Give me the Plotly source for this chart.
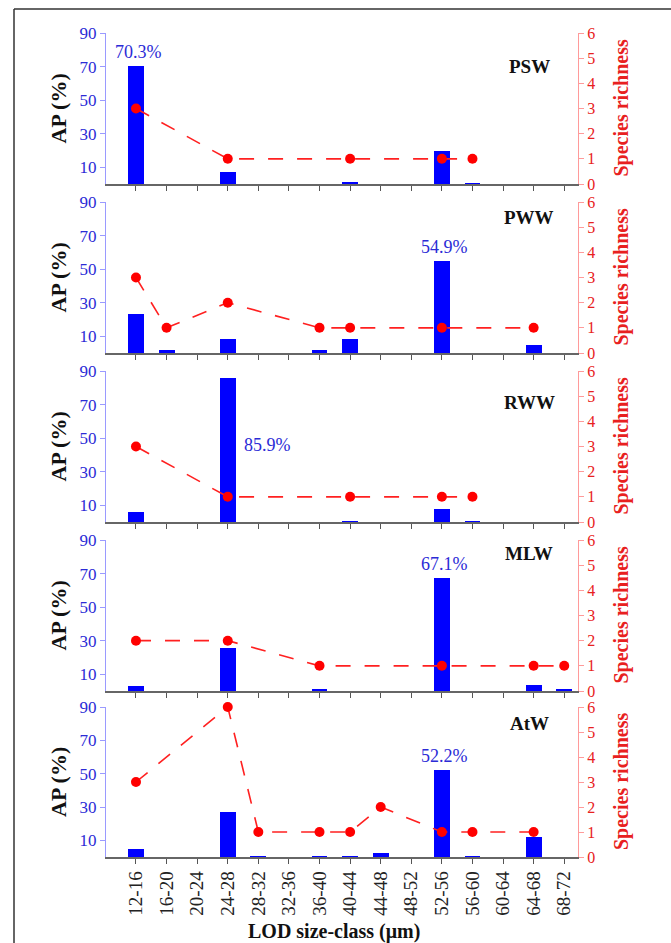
import plotly.graph_objects as go

categories = ["12-16", "16-20", "20-24", "24-28", "28-32", "32-36", "36-40", "40-44",
              "44-48", "48-52", "52-56", "56-60", "60-64", "64-68", "68-72"]

site_names = ["PSW", "PWW", "RWW", "MLW", "AtW"]

ap_psw = [70.3, 0, 0, 7.3, 0, 0, 0, 1.4, 0, 0, 19.8, 0.3, 0, 0, 0]
sr_psw = [3, None, None, 1, None, None, None, 1, None, None, 1, 1, None, None, None]

ap_pww = [23.4, 1.6, 0, 8.1, 0, 0, 1.6, 8.1, 0, 0, 54.9, 0, 0, 4.7, 0]
sr_pww = [3, 1, None, 2, None, None, 1, 1, None, None, 1, None, None, 1, None]

ap_rww = [6.0, 0, 0, 85.9, 0, 0, 0, 0.5, 0, 0, 7.6, 0.3, 0, 0, 0]
sr_rww = [3, None, None, 1, None, None, None, 1, None, None, 1, 1, None, None, None]

ap_mlw = [2.8, 0, 0, 25.5, 0, 0, 1.2, 0, 0, 0, 67.1, 0, 0, 3.6, 0.6]
sr_mlw = [2, None, None, 2, None, None, 1, None, None, None, 1, None, None, 1, 1]

ap_atw = [4.8, 0, 0, 27.1, 0.4, 0, 0.2, 0.5, 2.2, 0, 52.2, 0.2, 0, 11.8, 0]
sr_atw = [3, None, None, 6, 1, None, 1, 1, 2, None, 1, 1, None, 1, None]

ap_ticks = [10, 30, 50, 70, 90]
sr_ticks = [0, 1, 2, 3, 4, 5, 6]

ap_series = [ap_psw, ap_pww, ap_rww, ap_mlw, ap_atw]
sr_series = [sr_psw, sr_pww, sr_rww, sr_mlw, sr_atw]

FONT = "Times New Roman, Liberation Serif, serif"
W, H = 671, 943
ML, MR, MT, MB = 106, 93, 33, 86
PH = H - MT - MB
PW = W - ML - MR

# panel pixel extents (top, bottom)
panel_px = [(33, 184), (202, 353), (371, 522), (540, 691), (707, 857)]
label_px = [66, 218, 402, 553, 723]


def ypap(px):
    return (H - MB - px) / PH


def xpap(px):
    return (px - ML) / PW


fig = go.Figure()
layout = dict(
    width=W, height=H,
    margin=dict(l=ML, r=MR, t=MT, b=MB),
    paper_bgcolor="white", plot_bgcolor="white",
    showlegend=False,
    font=dict(family=FONT, color="#222"),
    bargap=0,
)
annotations = []

for i, (name, ap, sr) in enumerate(zip(site_names, ap_series, sr_series)):
    xn = "x" if i == 0 else f"x{i+1}"
    yp = f"y{2*i+1}" if i > 0 else "y"
    ys = f"y{2*i+2}"
    xkey = "xaxis" if i == 0 else f"xaxis{i+1}"
    ypkey = "yaxis" if i == 0 else f"yaxis{2*i+1}"
    yskey = f"yaxis{2*i+2}"
    top, bot = panel_px[i]
    dom = [ypap(bot), ypap(top)]

    fig.add_trace(go.Bar(x=categories, y=ap, xaxis=xn, yaxis=yp,
                         marker=dict(color="#0000ff", line=dict(width=0)),
                         width=0.52))
    fig.add_trace(go.Scatter(x=categories, y=sr, xaxis=xn, yaxis=ys,
                             mode="lines+markers", connectgaps=True, cliponaxis=False,
                             line=dict(color="#ff2020", dash="15px,14px", width=1.6),
                             marker=dict(size=10, color="#ff0000")))

    layout[xkey] = dict(
        domain=[0, 1], anchor=yp, type="category",
        categoryorder="array", categoryarray=categories,
        range=[-0.98, 14.45],
        tickmode="array", tickvals=categories, ticktext=categories,
        showticklabels=(i == 4), tickangle=-90,
        tickfont=dict(family=FONT, size=19, color="#222"),
        ticks="outside", ticklen=5, tickcolor="#555", tickwidth=1,
        showline=True, linecolor="#666", linewidth=1.5,
        showgrid=False, zeroline=False,
    )
    layout[ypkey] = dict(
        domain=dom, anchor=xn, range=[0, 90],
        tickmode="array", tickvals=ap_ticks,
        tickfont=dict(family=FONT, size=17, color="#2b2bd6"),
        ticks="outside", ticklen=5, tickcolor="#9a9aff",
        showline=True, linecolor="#9a9aff", linewidth=1,
        showgrid=False, zeroline=False,
    )
    layout[yskey] = dict(
        overlaying=yp, side="right", anchor=xn, range=[0, 6],
        tickmode="array", tickvals=sr_ticks,
        tickfont=dict(family=FONT, size=16, color="#e82020"),
        ticks="outside", ticklen=5, tickcolor="#ff9a9a",
        showline=True, linecolor="#ff9a9a", linewidth=1,
        showgrid=False, zeroline=False,
    )

    ymid = (dom[0] + dom[1]) / 2
    annotations.append(dict(text="<b>AP (%)</b>", xref="paper", yref="paper",
                            x=xpap(58), y=ymid, textangle=-90, showarrow=False,
                            font=dict(family=FONT, size=22, color="#111"),
                            xanchor="center", yanchor="middle"))
    annotations.append(dict(text="<b>Species richness</b>", xref="paper", yref="paper",
                            x=xpap(621), y=ymid, textangle=-90, showarrow=False,
                            font=dict(family=FONT, size=20, color="#e82020"),
                            xanchor="center", yanchor="middle"))
    # site label
    annotations.append(dict(text=f"<b>{name}</b>", xref=f"{xn} domain", yref=f"{yp} domain",
                            x=xpap(529), y=(bot - label_px[i]) / (bot - top),
                            showarrow=False, xanchor="center", yanchor="middle",
                            font=dict(family=FONT, size=19, color="#111")))
    # max value label
    k = max(range(len(ap)), key=lambda j: ap[j])
    if name == "RWW":
        annotations.append(dict(text=f"{ap[k]:.1f}%", xref=xn, yref=yp,
                                x=k, y=ap[k] * 0.535, xanchor="left", yanchor="middle",
                                xshift=14, showarrow=False,
                                font=dict(family=FONT, size=18, color="#2b2bd6")))
    else:
        annotations.append(dict(text=f"{ap[k]:.1f}%", xref=xn, yref=yp,
                                x=k, y=ap[k], xanchor="center", yanchor="bottom",
                                xshift=3, yshift=2, showarrow=False,
                                font=dict(family=FONT, size=18, color="#2b2bd6")))

annotations.append(dict(text="<b>LOD size-class (\u03bcm)</b>", xref="paper", yref="paper",
                        x=xpap(334), y=ypap(931), showarrow=False,
                        xanchor="center", yanchor="middle",
                        font=dict(family=FONT, size=20, color="#111")))

layout["annotations"] = annotations
layout["shapes"] = [
    dict(type="line", xref="paper", yref="paper", x0=xpap(14), x1=xpap(14),
         y0=ypap(960), y1=ypap(9), line=dict(color="#333", width=1.5)),
    dict(type="line", xref="paper", yref="paper", x0=xpap(14), x1=xpap(700),
         y0=ypap(9), y1=ypap(9), line=dict(color="#333", width=1.5)),
]
fig.update_layout(**layout)
fig.write_html("out.html")
